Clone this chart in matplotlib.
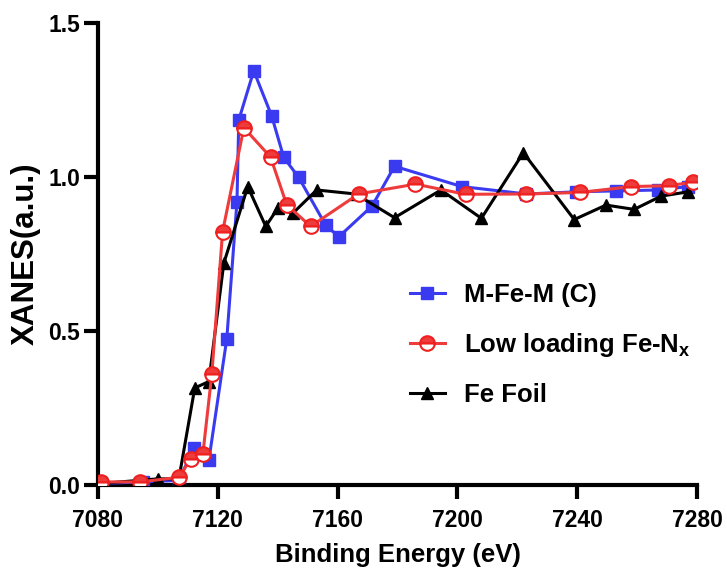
import matplotlib
matplotlib.use("Agg")
import matplotlib.pyplot as plt

# XANES spectra, Fe K-edge
e_mfem = [7081, 7095, 7107, 7112, 7117, 7123, 7126.4, 7127, 7132, 7138, 7142,
          7147, 7156, 7160.4, 7171.5, 7179, 7201.5, 7223, 7239.6, 7253, 7267, 7277]
x_mfem = [0.005, 0.01, 0.015, 0.12, 0.08, 0.475, 0.92, 1.185, 1.345, 1.198, 1.064,
          0.999, 0.844, 0.806, 0.906, 1.035, 0.969, 0.945, 0.952, 0.955, 0.958, 0.969]

e_low = [7081, 7094, 7107, 7111, 7115, 7118, 7121.6, 7128.7, 7137.6, 7143, 7151,
         7167, 7186, 7202.7, 7223, 7241, 7258, 7270.5, 7278.5]
x_low = [0.01, 0.01, 0.025, 0.085, 0.1, 0.36, 0.823, 1.16, 1.065, 0.91, 0.84,
         0.945, 0.977, 0.944, 0.945, 0.95, 0.969, 0.972, 0.983]

e_foil = [7081, 7100, 7107, 7112.3, 7117, 7122, 7130, 7136, 7140, 7145, 7153,
          7166, 7179, 7194.5, 7208, 7222, 7239, 7249.6, 7259, 7268, 7277]
x_foil = [0.005, 0.02, 0.02, 0.315, 0.336, 0.72, 0.969, 0.84, 0.898, 0.882, 0.958,
          0.945, 0.868, 0.958, 0.866, 1.079, 0.862, 0.909, 0.895, 0.938, 0.952]

labels = ["M-Fe-M (C)", "Low loading Fe-N$_\\mathbf{x}$", "Fe Foil"]

plt.rcParams["font.family"] = ["Liberation Sans", "DejaVu Sans"]
plt.rcParams["font.weight"] = "bold"
plt.rcParams["mathtext.fontset"] = "custom"
plt.rcParams["mathtext.bf"] = "Liberation Sans:bold"

fig = plt.figure(figsize=(7.27, 5.71), dpi=100)
ax = fig.add_axes([0.1348, 0.1506, 0.824, 0.809])

lw = 2.2
l1, = ax.plot(e_mfem, x_mfem, "-s", color="#3a3af0", lw=lw, ms=9, label=labels[0], zorder=3)
l3, = ax.plot(e_foil, x_foil, "-^", color="black", lw=lw, ms=9, label=labels[2], zorder=4)
l2, = ax.plot(e_low, x_low, "-o", color="#ee3b3b", lw=lw, ms=10.5, label=labels[1],
              fillstyle="top", markerfacecoloralt="white", markeredgecolor="#ee2020",
              markeredgewidth=1.5, zorder=5)

ax.set_xlim(7080, 7280)
ax.set_ylim(0, 1.5)
ax.set_xticks([7080, 7120, 7160, 7200, 7240, 7280])
ax.set_yticks([0.0, 0.5, 1.0, 1.5])
ax.set_yticklabels(["0.0", "0.5", "1.0", "1.5"])

for s in ["top", "right"]:
    ax.spines[s].set_visible(False)
for s in ["left", "bottom"]:
    ax.spines[s].set_linewidth(3)
ax.tick_params(width=3, length=10, labelsize=16.5)
ax.tick_params(axis="x", pad=7)
ax.tick_params(axis="y", pad=3)
for t in ax.get_xticklabels() + ax.get_yticklabels():
    t.set_fontweight("bold")

ax.set_xlabel("Binding Energy (eV)", fontsize=18.5, fontweight="bold", labelpad=8)
ax.set_ylabel("XANES(a.u.)", fontsize=22.5, fontweight="bold", labelpad=5)

leg = ax.legend(handles=[l1, l2, l3], loc="center left", bbox_to_anchor=(0.521, 0.303),
                frameon=False, fontsize=18.5, handlelength=1.35, labelspacing=0.95,
                handletextpad=0.75, borderpad=0, borderaxespad=0)
for t in leg.get_texts():
    t.set_fontweight("bold")

fig.savefig("out.png", dpi=100)
